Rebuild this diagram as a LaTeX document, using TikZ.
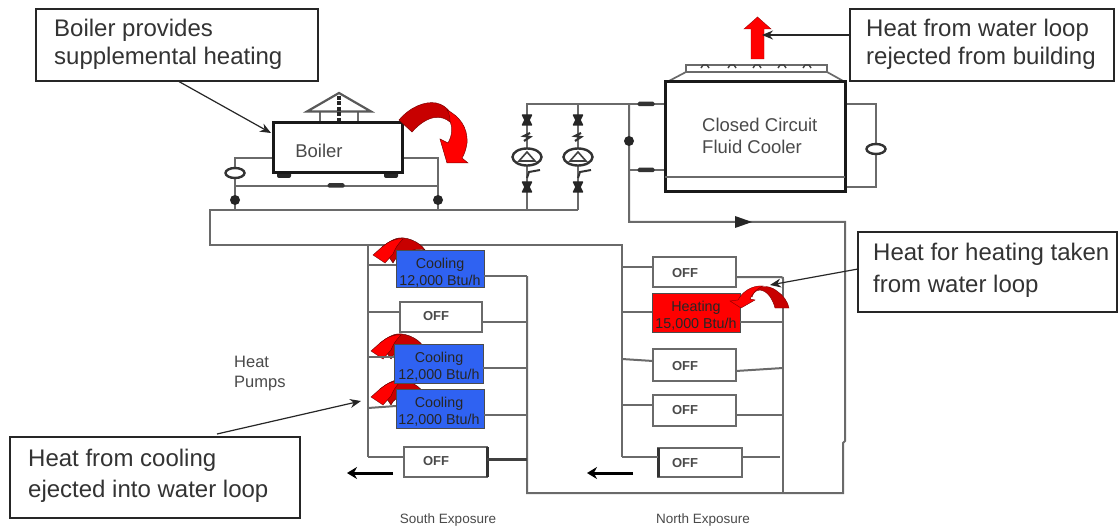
\documentclass[tikz,border=0pt]{standalone}
\usepackage{fontspec}
\setmainfont{Liberation Sans}
\usetikzlibrary{shapes.geometric,arrows.meta,calc}
\definecolor{pipegray}{HTML}{6A6A6A}
\definecolor{hotred}{HTML}{FF0000}
\definecolor{darkred}{HTML}{C80000}
\definecolor{coolblue}{HTML}{2F62F2}
\definecolor{labelgray}{HTML}{4A4A4A}
\newcommand{\bx}[7]{\node[#6,minimum width={(#4-#2)*1pt},minimum height={(#5-#3)*1pt}] (#1) at ({(#2+#4)/2},{(#3+#5)/2}) {#7};}
\newcommand{\smallcurl}[2]{%
\begin{scope}[shift={(#1,#2)}]
\fill[darkred,draw=black!70!red,line width=.4pt] (20,8) .. controls (24,-2) and (44,-8) .. (52,-5) .. controls (47,-13) and (32,-20) .. (22,-16) .. controls (17,-14) and (13,-11) .. (9,-8) -- cycle;
\fill[hotred,draw=black!60!red,line width=.4pt] (0,0) -- (9,-8) .. controls (15,-13) and (22,-17) .. (30,-16) .. controls (24,-10) and (22,-6) .. (20,-1) -- (12,8) -- cycle;
\end{scope}}
\tikzset{
  pipe/.style={draw=pipegray,line width=2pt},
  callout/.style={draw=black!85,line width=1.4pt,fill=white,inner sep=0pt,outer sep=0pt},
  calltext/.style={anchor=west,inner sep=0pt,align=left,text=black!80},
  leader/.style={draw=black!85,line width=1.2pt,-{Stealth[length=11pt,width=9pt]}},
  offbox/.style={draw=pipegray,line width=2.2pt,fill=white,inner sep=0pt,outer sep=0pt},
  offtext/.style={inner sep=0pt,text=labelgray,font=\fontsize{13}{15}\selectfont\bfseries},
  coolbox/.style={draw=black!70,line width=.9pt,fill=coolblue,inner sep=0pt,outer sep=0pt},
  heatbox/.style={draw=black!70,line width=.9pt,fill=hotred,inner sep=0pt,outer sep=0pt},
  unittext/.style={inner sep=0pt,align=center,font=\fontsize{14.3}{16.8}\selectfont,text=black!85},
  label/.style={inner sep=0pt,text=labelgray,align=left},
  blob/.style={fill=black!85,inner sep=0pt,minimum size=10pt,circle},
  flat/.style={fill=black!80,inner sep=0pt,minimum width=17pt,minimum height=4.5pt,rounded corners=1.5pt},
  pumpell/.style={ellipse,draw=black!80,line width=2.4pt,fill=white,inner sep=0pt,minimum width=29pt,minimum height=17pt},
  smallell/.style={ellipse,draw=black!80,line width=2.4pt,fill=white,inner sep=0pt,minimum width=19pt,minimum height=10pt},
  flowarrow/.style={draw=black,line width=3pt,-{Stealth[length=10pt,width=12pt]}},
  bowtie/.style={fill=black!85,draw=black!85,line width=1.4pt,line join=round}
}
\begin{document}
\begin{tikzpicture}[x=1pt,y=-1pt]
\useasboundingbox (0,0) rectangle (1118,529);
\fill[white] (0,0) rectangle (1118,529);

% named junctions
\coordinate (loopTL) at (210,210);
\coordinate (loopBL) at (210,245);
\coordinate (southTop) at (368,245);
\coordinate (northTop) at (622,245);
\coordinate (southBot) at (368,457);
\coordinate (northBot) at (622,457);
\coordinate (retS) at (527,276);
\coordinate (retSB) at (527,493);
\coordinate (retN) at (783,277);
\coordinate (retNB) at (783,493);
\coordinate (farTop) at (845,222);
\coordinate (farJog) at (845,441);
\coordinate (farJog2) at (843,443);
\coordinate (farBot) at (843,493);
\coordinate (supL) at (629,222);
\coordinate (supT) at (629,104);
\coordinate (pumpTA) at (527,104);
\coordinate (pumpBA) at (527,210);
\coordinate (pumpBB) at (578,210);

% water loop
\draw[pipe] (pumpBB) -- (578,104) -- (pumpTA) -- (pumpBA);
\draw[pipe] (pumpBB) -- (loopTL) -- (loopBL) -- (northTop) -- (northBot);
\draw[pipe] (southTop) -- (southBot);
\draw[pipe] (supT) -- (supL) -- (farTop) -- (farJog) -- (farJog2) -- (farBot) -- (retSB) -- (retS);
\draw[pipe] (retN) -- (retNB);
\draw[pipe] (578,104) -- (supT);

% boiler
\draw[pipe] (273,158) -- (235,158) -- (235,210);
\draw[pipe] (402,158) -- (438,158) -- (438,210);
\draw[pipe] (235,186) -- (438,186);
\draw[line width=2pt,draw=pipegray] (320,123) -- (320,111) (358,123) -- (358,111);
\draw[line width=2.2pt,draw=black!65,line join=miter] (307,111.5) -- (339,93) -- (371,111.5) -- cycle;
\draw[line width=3.6pt,draw=black!85,dash pattern=on 4pt off 1.5pt] (339,96) -- (339,123);
\fill[black!85,rounded corners=2pt] (277,170) rectangle (291,178) (384,170) rectangle (398,178);
\bx{boiler}{273}{123}{402}{173}{draw=black!90,line width=3pt,fill=white,inner sep=0pt,outer sep=0pt}{}
\node[label,font=\fontsize{18.5}{22}\selectfont] (boilerT) at (319,151) {Boiler};
\node[smallell] (bpump) at (235,173) {};
\node[flat] (bbyp) at (336,185.5) {};
\node[blob] (bv1) at (235,200) {};
\node[blob] (bv2) at (438,200) {};

% boiler heat arrow
\fill[darkred,draw=black!50!red,line width=.5pt] (399,120) .. controls (410,107) and (425,101) .. (436,103) .. controls (442,104) and (447,108) .. (450,112) .. controls (452,116) and (451,120) .. (450,122) .. controls (442,115) and (428,114) .. (412,132) -- cycle;
\fill[hotred,draw=black!50!red,line width=.5pt] (447,110) .. controls (459,116) and (468,127) .. (467,143) .. controls (466,150) and (464,155) .. (462,158) -- (468,163) -- (447,163) -- (440,139) -- (448,143) .. controls (452,136) and (453,128) .. (450,121) .. controls (450,117) and (449,113) .. (447,110) -- cycle;

% pumps
\foreach \n/\xx in {A/527,B/578}{
  \node[pumpell] (pump\n) at (\xx,157) {};
  \draw[line width=1.6pt,draw=black!75] (\xx-8,161) -- (\xx,152) -- (\xx+8,161) -- cycle;
  \fill[bowtie] (\xx-4.5,115) -- (\xx+4.5,115) -- (\xx+2,120) -- (\xx+4.5,125) -- (\xx-4.5,125) -- (\xx-2,120) -- cycle;
  \fill[bowtie] (\xx-4.5,182) -- (\xx+4.5,182) -- (\xx+2,187) -- (\xx+4.5,192) -- (\xx-4.5,192) -- (\xx-2,187) -- cycle;
  \draw[line width=2pt,draw=black!80] (\xx,178) -- (\xx+2,172) -- (\xx+13,170);
  \draw[line width=2.2pt,draw=black!80] (\xx-3,141) -- (\xx+3,137) -- (\xx-3,136) -- (\xx+3,133);
}

% cooler
\draw[line width=1.7pt,draw=pipegray] (667,82) -- (686,72) -- (686,65) -- (827,65) -- (827,72) -- (845,82);
\draw[line width=1.7pt,draw=pipegray] (686,72) -- (827,72);
\foreach \xx in {705,732,757,782,807}{\draw[line width=1.4pt,draw=black!75] (\xx-4,68) -- (\xx-2,65) -- (\xx+2,65) -- (\xx+4,68);}
\draw[pipe] (629,104) -- (665,104);
\draw[pipe] (629,170) -- (665,170);
\draw[pipe] (845,104) -- (876,104) -- (876,187) -- (845,187);
\bx{cooler}{665}{82}{845}{192}{draw=black!90,line width=3pt,fill=white,inner sep=0pt,outer sep=0pt}{}
\draw[line width=1.7pt,draw=pipegray] (cooler.west |- 0,177) -- (cooler.east |- 0,177);
\node[label,anchor=west,font=\fontsize{18.5}{22}\selectfont] (coolerT) at (702,136) {Closed Circuit\\Fluid Cooler};
\node[smallell] (cpump) at (876,149) {};
\node[flat] (cv1) at (646,104) {};
\node[flat] (cv2) at (646,170) {};
\node[blob] (cv3) at (629,141) {};

% flow arrow on the supply line
\fill[black!85] (735,216) -- (752,222) -- (735,228) -- cycle;

% south exposure
\smallcurl{373}{255}
\smallcurl{371}{351}
\smallcurl{371}{397}
\draw[pipe] (368,265) -- (396,265);
\draw[pipe] (368,312) -- (400,312);
\draw[pipe] (368,357) -- (394,357);
\draw[pipe] (368,408) -- (396,406);
\bx{coolA}{396}{250}{484}{287}{coolbox}{}
\node[unittext] (coolAT) at (440,272.5) {Cooling\\12,000 Btu/h};
\bx{offA}{400}{302}{482}{332}{offbox}{}
\bx{coolB}{394}{344}{483}{383}{coolbox}{}
\node[unittext] (coolBT) at (439,366.5) {Cooling\\12,000 Btu/h};
\bx{coolC}{396}{389}{484}{428}{coolbox}{}
\node[unittext] (coolCT) at (439,411.5) {Cooling\\12,000 Btu/h};
\bx{offB}{404}{447}{487}{477}{offbox}{}
\node[offtext] (offAT) at (436,316) {OFF};
\node[offtext] (offBT) at (436,461) {OFF};
\draw[line width=3pt,draw=black!80] (offB.north east) -- (offB.south east);
\draw[pipe] (southBot) -- (offB.west |- southBot);
\draw[pipe] (coolA.east |- retS) -- (retS);
\draw[pipe] (offA.east |- 0,322) -- (527,322);
\draw[pipe] (coolB.east |- 0,368) -- (527,368);
\draw[pipe] (coolC.east |- 0,415) -- (527,415);
\draw[line width=3pt,draw=black!75] (offB.east |- 0,459) -- (527,459);

% north exposure
\bx{offC}{653}{257}{736}{287}{offbox}{}
\bx{heatA}{652}{293}{740}{332}{heatbox}{}
\node[unittext] (heatAT) at (696,315.5) {Heating\\15,000 Btu/h};
\bx{offD}{653}{349}{736}{381}{offbox}{}
\bx{offE}{653}{395}{736}{426}{offbox}{}
\bx{offF}{658}{448}{742}{477}{offbox}{}
\node[offtext] (offCT) at (685,273) {OFF};
\node[offtext] (offDT) at (685,366) {OFF};
\node[offtext] (offET) at (685,410) {OFF};
\node[offtext] (offFT) at (685,463) {OFF};
\draw[line width=3pt,draw=black!80] (offF.north west) -- (offF.south west);
\draw[pipe] (622,267) -- (offC.west |- 0,267);
\draw[pipe] (622,312) -- (heatA.west |- 0,312);
\draw[pipe] (622,359) -- (offD.west |- 0,361);
\draw[pipe] (622,405) -- (offE.west |- 0,405);
\draw[pipe] (northBot) -- (offF.west |- northBot);
\draw[pipe,rounded corners=2pt] (offC.east |- retN) -- (retN) -- (783,285);
\draw[pipe] (heatA.east |- 0,322) -- (783,322);
\draw[pipe] (offD.east |- 0,371) -- (783,368);
\draw[pipe] (offE.east |- 0,415) -- (783,415);
\draw[pipe] (offF.east |- 0,457) -- (780,457);

% heating curl
\fill[darkred,draw=black!50!red,line width=.4pt] (750,294) .. controls (756,285) and (768,284) .. (777,291) .. controls (783,295) and (788,302) .. (789,308) -- (775,308) .. controls (773,300) and (768,291) .. (760,290) .. controls (755,290) and (753,294) .. (752,297) -- cycle;
\fill[hotred,draw=black!50!red,line width=.4pt] (730,301) -- (738,300) .. controls (742,292) and (752,285) .. (763,286) .. controls (757,288) and (752,294) .. (750,299) -- (755,300) -- (741,308) -- cycle;

% flow arrows
\coordinate (sfa) at (393,473);
\coordinate (sfb) at (347,473);
\coordinate (nfa) at (633,473);
\coordinate (nfb) at (587,473);
\draw[flowarrow] (sfa) -- (sfb);
\draw[flowarrow] (nfa) -- (nfb);

% red exhaust arrow
\fill[hotred,draw=black!40!red,line width=.4pt] (751,59) -- (764,59) -- (764,29) -- (771,29) -- (757.5,17) -- (744,29) -- (751,29) -- cycle;

% callouts
\bx{callBoiler}{36}{9}{318}{81}{callout}{}
\node[calltext,font=\fontsize{24}{28}\selectfont] (callBoilerT) at (54,44) {Boiler provides\\supplemental heating};
\bx{callReject}{850}{9}{1114}{81}{callout}{}
\node[calltext,font=\fontsize{24}{28}\selectfont] (callRejectT) at (866,44) {Heat from water loop\\rejected from building};
\bx{callHeat}{858}{232}{1117}{312}{callout}{}
\node[calltext,font=\fontsize{24}{32}\selectfont] (callHeatT) at (873,270) {Heat for heating taken\\from water loop};
\bx{callCool}{10}{437}{300}{518}{callout}{}
\node[calltext,font=\fontsize{24}{31}\selectfont] (callCoolT) at (28,476) {Heat from cooling\\ejected into water loop};

\coordinate (lb1) at (178,81);
\coordinate (lb2) at (271,133);
\coordinate (lr1) at (850,35);
\coordinate (lr2) at (762,35);
\coordinate (lh1) at (858,269);
\coordinate (lh2) at (770,285);
\coordinate (lc1) at (217,434);
\coordinate (lc2) at (361,401);
\draw[leader] (lb1) -- (lb2);
\draw[leader] (lr1) -- (lr2);
\draw[leader] (lh1) -- (lh2);
\draw[leader] (lc1) -- (lc2);

% plain labels
\node[label,anchor=west,font=\fontsize{16.5}{20}\selectfont] (pumpsT) at (234,374) {Heat\\Pumps};
\node[label,font=\fontsize{13.5}{15}\selectfont] (southT) at (448,520) {South Exposure};
\node[label,font=\fontsize{13.5}{15}\selectfont] (northT) at (703,520) {North Exposure};
\end{tikzpicture}
\end{document}
